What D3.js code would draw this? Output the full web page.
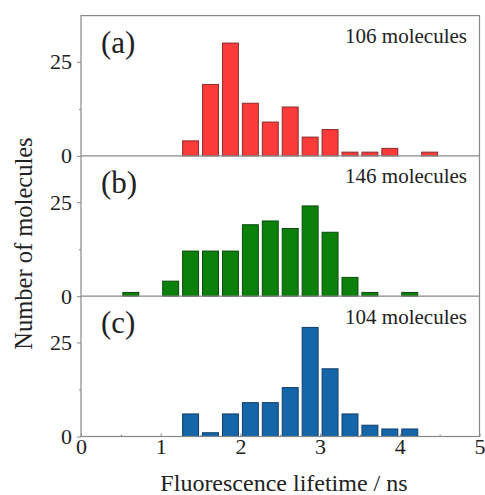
<!DOCTYPE html>
<html>
<head>
<meta charset="utf-8">
<script src="https://cdn.jsdelivr.net/npm/d3@7"></script>
<style>
  body { margin: 0; background: #fff; }
  svg text { font-family: "Liberation Serif", "Times New Roman", serif; fill: #222; }
</style>
</head>
<body>
<div id="chart"></div>
<script>
// histogram bins (start of each 0.25 ns bin)
var binStarts = [0.5, 0.75, 1.0, 1.25, 1.5, 1.75, 2.0, 2.25, 2.5, 2.75, 3.0, 3.25, 3.5, 3.75, 4.0, 4.25];
var countsA = [0, 0, 0, 4, 19, 30, 14, 9, 13, 5, 7, 1, 1, 2, 0, 1];
var countsB = [1, 0, 4, 12, 12, 12, 19, 20, 18, 24, 17, 5, 1, 0, 1, 0];
var countsC = [0, 0, 0, 6, 1, 6, 9, 9, 13, 29, 18, 6, 3, 2, 2, 0];
var panelLabels = ["(a)", "(b)", "(c)"];
var moleculeLabels = ["106 molecules", "146 molecules", "104 molecules"];
var xTicks = [0, 1, 2, 3, 4, 5];
var yTicks = [0, 25];

function main() {
    var width = 485, height = 495;
    var left = 81, right = 479.5, top = 15.6, panelH = 140.3;
    var binW = 0.25, barW = 0.2;

    var svg = d3.select("#chart").append("svg")
        .attr("width", width)
        .attr("height", height);

    var x = d3.scaleLinear().domain([0, 5]).range([left, right]);

    var panels = [
        { counts: countsA, fill: "#fb3a3a", stroke: "#8c2c2c" },
        { counts: countsB, fill: "#0b800b", stroke: "#0a4a0a" },
        { counts: countsC, fill: "#1565a9", stroke: "#0f3e68" }
    ];

    panels.forEach(function (p, i) {
        var y0 = top + i * panelH;
        var y = d3.scaleLinear().domain([0, 37.3]).range([y0 + panelH, y0]);
        var g = svg.append("g");

        // bars
        var data = binStarts.map(function (b, k) { return { x: b, v: p.counts[k] }; })
            .filter(function (d) { return d.v > 0; });
        g.selectAll("rect")
            .data(data)
            .enter()
            .append("rect")
            .attr("x", function (d) { return x(d.x + (binW - barW) / 2); })
            .attr("y", function (d) { return y(d.v); })
            .attr("width", x(barW) - x(0))
            .attr("height", function (d) { return y(0) - y(d.v); })
            .attr("fill", p.fill)
            .attr("stroke", p.stroke)
            .attr("stroke-width", 1);

        // y axis major ticks
        var ya = g.append("g")
            .attr("transform", "translate(" + left + ",0)")
            .call(d3.axisLeft(y).tickValues(yTicks).tickSize(4).tickPadding(5));
        ya.select(".domain").remove();
        ya.selectAll("line").attr("stroke", "#888");
        ya.selectAll("text").style("font-size", "22px")
            .style("font-family", "Liberation Serif, serif").attr("fill", "#222");

        // minor tick
        g.append("g")
            .attr("transform", "translate(" + left + ",0)")
            .call(d3.axisLeft(y).tickValues([12.5]).tickSize(2).tickFormat(""))
            .call(function (s) { s.select(".domain").remove(); s.selectAll("line").attr("stroke", "#888"); });

        // baseline
        g.append("line")
            .attr("x1", left).attr("x2", right)
            .attr("y1", y(0)).attr("y2", y(0))
            .attr("stroke", "#888").attr("stroke-width", 1.2);

        g.append("text")
            .attr("x", 101)
            .attr("y", y0 + 37)
            .style("font-size", "31px")
            .text(panelLabels[i]);

        g.append("text")
            .attr("x", 467)
            .attr("y", y0 + 27.5)
            .attr("text-anchor", "end")
            .style("font-size", "21px")
            .text(moleculeLabels[i]);
    });

    // frame
    svg.append("rect")
        .attr("x", left).attr("y", top)
        .attr("width", right - left).attr("height", 3 * panelH)
        .attr("fill", "none").attr("stroke", "#888").attr("stroke-width", 1.2);

    // x axis on bottom panel
    var yb = top + 3 * panelH;
    var xa = svg.append("g")
        .attr("transform", "translate(0," + yb + ")")
        .call(d3.axisBottom(x).tickValues(xTicks).tickFormat(d3.format("d")).tickSize(0).tickPadding(2));
    xa.select(".domain").remove();
    xa.selectAll("line").attr("stroke", "#888").attr("y2", -3);
    xa.selectAll("text").style("font-size", "22px")
        .style("font-family", "Liberation Serif, serif").attr("fill", "#222");
    var xm = svg.append("g")
        .attr("transform", "translate(0," + yb + ")")
        .call(d3.axisBottom(x).tickValues([0.5, 1.5, 2.5, 3.5, 4.5]).tickSize(2).tickFormat(""));
    xm.select(".domain").remove();
    xm.selectAll("line").attr("stroke", "#888").attr("y2", -2);

    // axis titles
    svg.append("text")
        .attr("x", 284)
        .attr("y", 491)
        .attr("text-anchor", "middle")
        .style("font-size", "24px")
        .text("Fluorescence lifetime / ns");

    svg.append("text")
        .attr("transform", "translate(32,243.5) rotate(-90)")
        .attr("text-anchor", "middle")
        .style("font-size", "24.5px")
        .text("Number of molecules");
}
window.addEventListener('load', main);
</script>
</body>
</html>
